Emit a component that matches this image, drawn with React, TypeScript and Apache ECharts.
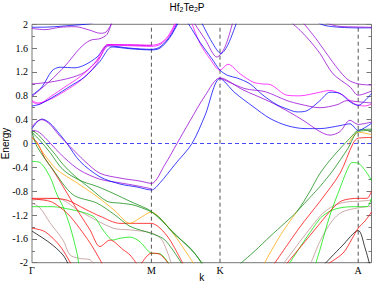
import React, { useEffect, useRef } from 'react';
import * as echarts from 'echarts';

// high-symmetry points along the k path
const K_G = 0, K_M = 1.194, K_K = 1.88, K_A = 3.262, K_END = 3.395;
const kTicks = [K_G, K_M, K_K, K_A];
const kTickLabels = ['Γ', 'M', 'K', 'A'];
const vLines = [K_M, K_K, K_A];
const eMin = -2, eMax = 2, eStep = 0.4;

const COLORS: Record<string, string> = {
  blue: '#0000ff', violet: '#9400d3', magenta: '#ff00ff', dkgreen: '#0f8a0f',
  lime: '#00e600', red: '#ff0000', orange: '#ffa500', tan: '#bc8f8f', black: '#000000',
};

// ---- conduction bands ----
const bU1 = [[0,1.95],[0.18,1.955],[0.38,1.98],[0.58,2.01],[0.65,2.05]];
const bU2 = [[0,1.93],[0.13,1.91],[0.28,1.95],[0.43,1.96],[0.58,1.9],[0.68,1.85],[0.74,1.87],[0.81,2.05]];
const bPdiag = [[0,0.79],[0.18,1.05],[0.33,1.3],[0.48,1.6],[0.58,1.73],[0.68,1.76],[0.75,1.83],[0.8,2.05]];
const bChump = [[0,0.81],[0.1,0.95],[0.2,1.22],[0.28,1.28],[0.43,1.27],[0.53,1.32],[0.65,1.45],[0.76,1.64],[0.98,1.6],[1.194,1.58],[1.28,1.62],[1.38,1.8],[1.46,2.05]];
const bP10 = [[0,1.0],[0.18,1.03],[0.38,1.1],[0.53,1.2],[0.68,1.45],[0.76,1.66],[0.98,1.65],[1.194,1.64]];
const bP1 = [[0,0.7],[0.06,0.66],[0.18,0.78],[0.33,0.95],[0.48,1.12],[0.63,1.35],[0.76,1.66],[0.98,1.66],[1.194,1.65],[1.28,1.68],[1.36,1.8],[1.44,2.05]];
const bP2 = [[0,0.72],[0.06,0.68],[0.18,0.74],[0.33,0.88],[0.48,1.05],[0.63,1.3],[0.78,1.65],[0.98,1.64],[1.194,1.63],[1.28,1.66],[1.37,1.8],[1.45,2.05]];
const bB1 = [[0,0.63],[0.08,0.66],[0.23,0.8],[0.38,0.96],[0.53,1.12],[0.68,1.38],[0.8,1.62],[0.98,1.59],[1.194,1.57],[1.28,1.6],[1.38,1.78],[1.47,2.05]];
const bKX1 = [[1.59,2.05],[1.68,1.68],[1.78,1.42],[1.88,1.23],[1.96,1.33],[2.08,1.17],[2.21,1.03],[2.3,1.0],[2.38,0.99],[2.55,0.81],[2.68,0.8],[2.85,0.85],[2.98,0.89],[3.1,0.82],[3.21,0.68],[3.262,0.64],[3.33,0.63],[3.395,0.66]];
const bKX2 = [[1.55,2.05],[1.68,1.7],[1.8,1.42],[1.88,1.23],[1.96,1.14],[2.05,1.1],[2.18,1.0],[2.31,0.81],[2.45,0.65],[2.55,0.58],[2.65,0.53],[2.75,0.55],[2.88,0.72],[2.98,0.86],[3.08,0.84],[3.18,0.7],[3.262,0.64],[3.33,0.72],[3.395,0.84]];
const bKV1 = [[1.61,2.05],[1.73,1.75],[1.85,1.45],[1.93,1.62],[2.01,2.05]];
const bKV2 = [[1.69,2.05],[1.8,1.7],[1.89,1.51],[1.96,1.66],[2.05,2.05]];
const bPd1 = [[2.7,2.05],[2.83,1.78],[2.95,1.5],[3.06,1.25],[3.16,1.07],[3.262,1.0],[3.395,0.98]];
const bPd2 = [[2.58,2.05],[2.68,1.9],[2.78,1.72],[2.88,1.51],[3.01,1.17],[3.18,0.95],[3.262,0.81],[3.395,0.88]];
const bUA1 = [[2.83,2.05],[2.93,1.98],[3.08,1.95],[3.262,1.94],[3.395,1.94]];
const bUA2 = [[2.9,2.05],[3.05,1.97],[3.262,1.955],[3.395,1.95]];
const bPuHi = [[1.88,1.1],[2.13,0.92],[2.33,0.87],[2.55,0.72],[2.68,0.66],[2.88,0.6],[3.05,0.65],[3.15,0.72],[3.262,0.7],[3.395,0.68]];

// ---- bands crossing the Fermi level ----
const bV1 = [[0,0.25],[0.05,0.36],[0.1,0.41],[0.18,0.34],[0.28,0.15],[0.35,0.0],[0.48,-0.3],[0.68,-0.56],[0.88,-0.68],[1.05,-0.73],[1.194,-0.78],[1.28,-0.66],[1.43,-0.35],[1.6,0.0],[1.73,0.47],[1.88,1.09],[2.03,0.85],[2.21,0.62],[2.38,0.42],[2.55,0.3],[2.73,0.25],[2.88,0.25],[3.08,0.3],[3.18,0.33],[3.262,0.22],[3.395,0.34]];
const bV2 = [[0,0.28],[0.05,0.37],[0.1,0.4],[0.18,0.32],[0.28,0.12],[0.38,-0.05],[0.53,-0.3],[0.68,-0.5],[0.88,-0.58],[1.08,-0.63],[1.194,-0.67],[1.33,-0.35],[1.45,0.0],[1.58,0.38],[1.73,0.8],[1.88,1.1],[2.11,0.9],[2.38,0.7],[2.58,0.52],[2.71,0.39],[2.88,0.2],[2.98,0.14],[3.08,0.2],[3.18,0.39],[3.262,0.32],[3.395,0.36]];
const bV3 = [[0,0.22],[0.06,0.2],[0.13,0.1],[0.23,-0.08],[0.33,-0.25],[0.48,-0.45],[0.68,-0.6],[0.88,-0.66],[1.05,-0.71],[1.194,-0.76]];

// ---- valence bands ----
const bDG1 = [[0,0.22],[0.06,0.15],[0.13,0.02],[0.23,-0.18],[0.31,-0.35],[0.43,-0.55],[0.58,-0.75],[0.75,-0.97],[0.88,-1.0],[1.01,-1.03],[1.13,-1.1],[1.194,-1.15],[1.28,-1.25],[1.41,-1.5],[1.58,-1.75],[1.72,-2.05]];
const bDG2 = [[0,0.19],[0.08,0.05],[0.18,-0.15],[0.31,-0.44],[0.48,-0.62],[0.65,-0.72],[0.83,-0.85],[0.98,-0.97],[1.13,-1.08],[1.194,-1.14],[1.33,-1.35],[1.48,-1.6],[1.63,-1.85],[1.71,-2.05]];
const bDG3 = [[0,0.2],[0.05,-0.05],[0.21,-0.44],[0.41,-0.86],[0.65,-1.0],[0.83,-1.2],[0.98,-1.39],[1.194,-1.51],[1.33,-1.62],[1.51,-2.05]];
const bO1 = [[0,0.1],[0.05,0.0],[0.13,-0.2],[0.25,-0.44],[0.45,-0.66],[0.65,-0.89],[0.83,-1.13],[0.98,-1.34],[1.08,-1.25],[1.194,-1.15],[1.28,-1.25],[1.43,-1.55],[1.63,-2.05]];
const bR1 = [[0,0.1],[0.05,0.02],[0.13,-0.25],[0.2,-0.42],[0.31,-0.72],[0.45,-1.11],[0.58,-1.45],[0.68,-1.73],[0.78,-1.62],[0.91,-1.78],[0.98,-1.87],[1.06,-2.05]];
const bR2 = [[0,-0.92],[0.18,-0.92],[0.35,-0.95],[0.53,-1.1],[0.68,-1.22],[0.88,-1.34],[1.194,-1.34],[1.28,-1.42],[1.38,-1.62],[1.52,-2.05]];
const bR5 = [[0,-0.93],[0.18,-0.97],[0.28,-1.07],[0.38,-1.22],[0.51,-1.5],[0.6,-1.72],[0.68,-1.95],[0.71,-2.05]];
const bR6 = [[1.08,-2.05],[1.194,-1.84],[1.28,-1.86],[1.38,-2.05]];
const bT1 = [[0,-0.95],[0.25,-0.92],[0.48,-1.14],[0.81,-1.42],[0.98,-1.45],[1.194,-1.5],[1.3,-1.62],[1.4,-2.05]];
const bT2 = [[0,-1.0],[0.08,-1.08],[0.18,-1.33],[0.31,-1.62],[0.38,-1.87],[0.48,-1.93],[0.58,-1.95],[0.63,-2.05]];
const bL1 = [[0,-0.3],[0.08,-0.32],[0.18,-0.56],[0.25,-0.86],[0.31,-1.06],[0.38,-1.39],[0.45,-1.84],[0.47,-2.05]];
const bL2 = [[0,-1.06],[0.18,-1.06],[0.31,-1.08],[0.61,-1.22],[0.71,-1.45],[0.81,-1.62],[0.88,-1.59],[0.98,-1.57],[1.08,-1.65],[1.194,-1.84],[1.28,-1.85],[1.38,-2.05]];
const bBk1 = [[0,-1.47],[0.18,-1.67],[0.31,-1.87],[0.37,-2.05]];
const bR3 = [[0,-1.42],[0.13,-1.48],[0.28,-1.72],[0.4,-2.05]];

const bDGa = [[2.06,-2.05],[2.23,-1.8],[2.38,-1.56],[2.53,-1.33],[2.65,-1.14],[2.78,-0.8],[2.88,-0.5],[3.01,-0.22],[3.18,0.09],[3.262,0.22],[3.395,0.24]];
const bOA = [[2.31,-2.05],[2.48,-1.55],[2.65,-1.14]];
const bDGb = [[2.65,-1.14],[2.88,-0.72],[3.01,-0.45],[3.16,-0.08],[3.262,0.2],[3.395,0.22]];
const bOA2 = [[3.16,-0.02],[3.262,0.19],[3.395,0.15]];
const bRA1 = [[2.41,-2.05],[2.68,-1.4],[2.88,-0.97],[3.08,-0.5],[3.21,0.0],[3.262,0.09],[3.395,0.1]];
const bRA2 = [[2.53,-2.05],[2.88,-1.34],[3.0,-1.1],[3.1,-0.96],[3.262,-0.92],[3.35,-0.92],[3.395,-0.8]];
const bTA1 = [[2.5,-2.05],[2.88,-1.22],[3.02,-1.04],[3.15,-0.98],[3.262,-0.97],[3.395,-0.95]];
const bLA1 = [[2.56,-2.05],[2.88,-1.26],[3.0,-1.12],[3.12,-1.07],[3.262,-1.06],[3.35,-1.06],[3.395,-0.92]];
const bTA2 = [[2.78,-2.05],[2.88,-1.64],[3.0,-1.3],[3.1,-1.15],[3.262,-1.08],[3.395,-1.05]];
const bLA2 = [[2.83,-2.05],[2.88,-1.78],[2.98,-1.2],[3.08,-0.75],[3.15,-0.45],[3.2,-0.32],[3.262,-0.33],[3.33,-0.45],[3.395,-0.62]];
const bRA3 = [[2.93,-2.05],[3.11,-1.84],[3.2,-1.6],[3.262,-1.42],[3.33,-1.3],[3.395,-1.15]];
const bBkA = [[2.91,-2.05],[3.1,-1.72],[3.262,-1.46],[3.33,-1.75],[3.38,-2.05]];

const bands: [string, number[][]][] = [
  ['tan', bT1], ['tan', bT2], ['black', bBk1], ['red', bR3], ['lime', bL1], ['lime', bL2],
  ['red', bR1], ['red', bR2], ['red', bR5], ['red', bR6], ['orange', bO1],
  ['dkgreen', bDG1], ['dkgreen', bDG2], ['dkgreen', bDG3],
  ['tan', bTA1], ['tan', bTA2], ['black', bBkA], ['red', bRA3], ['lime', bLA1], ['lime', bLA2],
  ['red', bRA1], ['red', bRA2], ['orange', bOA], ['orange', bOA2], ['dkgreen', bDGa], ['dkgreen', bDGb],
  ['violet', bV3], ['blue', bV1], ['violet', bV2],
  ['blue', bU1], ['violet', bU2], ['violet', bPdiag], ['blue', bChump], ['violet', bP10],
  ['magenta', bP1], ['magenta', bP2], ['blue', bB1],
  ['magenta', bKX1], ['blue', bKX2], ['violet', bKV1], ['blue', bKV2],
  ['violet', bPd1], ['violet', bPd2], ['blue', bUA1], ['violet', bUA2], ['violet', bPuHi],
];

const SERIF = '"Liberation Serif", "Times New Roman", serif';
const SANS = '"Liberation Sans", Arial, sans-serif';

export default function App() {
  const ref = useRef<HTMLDivElement>(null);
  useEffect(() => {
    document.body.style.margin = '0';
    if (!ref.current) return;
    const chart = echarts.init(ref.current, undefined, { renderer: 'svg' });
    const bandSeries = bands.map(([c, d]) => ({
      type: 'line', data: d, symbol: 'none', showSymbol: false, smooth: 0.3,
      silent: true, lineStyle: { color: COLORS[c], width: 1, opacity: 0.75 },
    }));
    const refSeries: any[] = [
      {
        type: 'line', data: [[K_G, 0], [K_END, 0]], symbol: 'none', silent: true, z: 1,
        lineStyle: { color: '#4848ff', width: 1, type: [4, 3] },
      },
      ...vLines.map((k) => ({
        type: 'line', data: [[k, eMin], [k, eMax]], symbol: 'none', silent: true, z: 1,
        lineStyle: { color: '#555', width: 1, type: [4, 3] },
      })),
    ];
    const yFmt = (v: number) => String(Math.round(v * 10) / 10);
    chart.setOption({
      animation: false,
      title: {
        text: '{n|Hf}{s|2}{n|Te}{s|2}{n|P}', left: 'center', top: 1, padding: 0,
        textStyle: {
          fontWeight: 'normal',
          rich: {
            n: { fontFamily: SANS, fontSize: 10, fontWeight: 'normal', color: '#000', lineHeight: 12 },
            s: { fontFamily: SANS, fontSize: 7, fontWeight: 'normal', color: '#000', lineHeight: 12, padding: [5, 0, 0, 0] },
          },
        },
      },
      grid: {
        left: 32, right: 2.5, top: 24.3, bottom: 21.3, show: true, borderColor: '#777', borderWidth: 1,
        containLabel: false, outerBoundsMode: 'none',
      },
      xAxis: {
        type: 'value', min: K_G, max: K_END,
        splitLine: { show: false }, axisLine: { show: false }, axisTick: { show: false },
        axisLabel: {
          customValues: kTicks,
          formatter: (v: number) => {
            let best = 0;
            kTicks.forEach((t, i) => { if (Math.abs(t - v) < Math.abs(kTicks[best] - v)) best = i; });
            return kTickLabels[best];
          },
          fontFamily: SERIF, fontSize: 10, color: '#000', margin: 3,
        },
        name: 'k', nameLocation: 'middle', nameGap: 9.5, nameMoveOverlap: false,
        nameTextStyle: { fontFamily: SANS, fontSize: 10, color: '#000' },
      },
      yAxis: [
        {
          type: 'value', min: eMin, max: eMax, interval: eStep, position: 'left',
          splitLine: { show: false }, axisLine: { show: false },
          axisTick: { show: true, inside: true, length: 5, lineStyle: { color: '#777' } },
          minorTick: { show: true, splitNumber: 2, length: 3, lineStyle: { color: '#777' } },
          axisLabel: { formatter: yFmt, fontFamily: SERIF, fontSize: 10, color: '#000', margin: 4 },
          name: 'Energy', nameLocation: 'middle', nameGap: 22, nameMoveOverlap: false,
          nameTextStyle: { fontFamily: SANS, fontSize: 10, color: '#000' },
        },
        {
          type: 'value', min: eMin, max: eMax, interval: eStep, position: 'right',
          splitLine: { show: false }, axisLine: { show: false },
          axisTick: { show: true, inside: true, length: 5, lineStyle: { color: '#777' } },
          minorTick: { show: true, splitNumber: 2, length: 3, lineStyle: { color: '#777' } },
          axisLabel: { show: false },
        },
      ],
      series: [...refSeries, ...bandSeries],
    });
    return () => chart.dispose();
  }, []);
  return <div ref={ref} style={{ width: 374, height: 284 }} />;
}
